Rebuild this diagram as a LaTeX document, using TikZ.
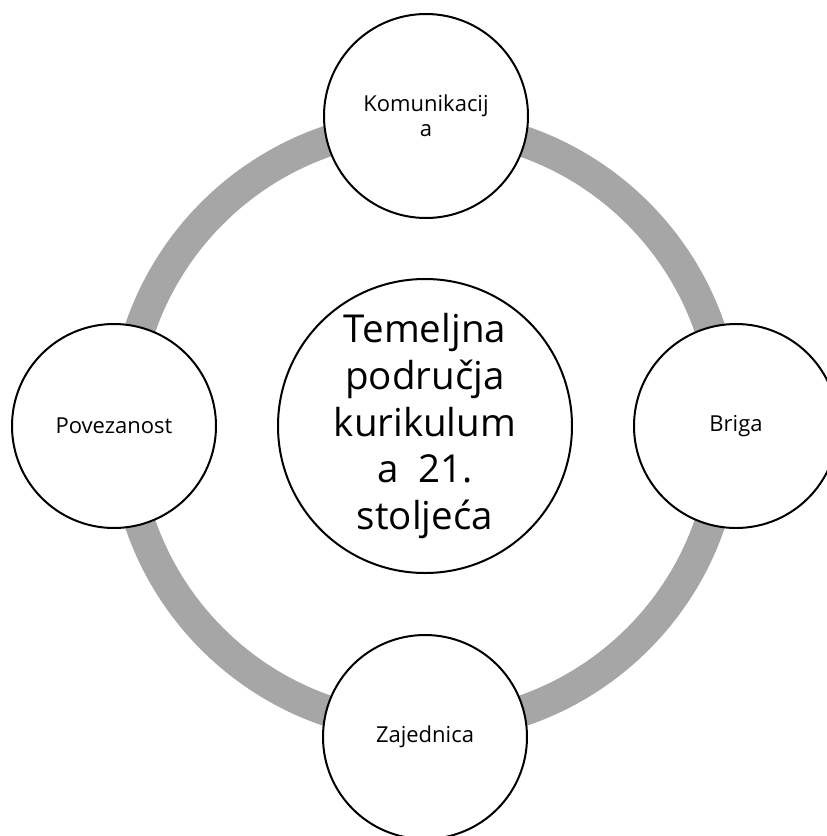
\documentclass[tikz,border=0pt]{standalone}
\usepackage{fontspec}
\setmainfont{Open Sans}
\definecolor{ringgray}{HTML}{A6A6A6}
\begin{document}
\begin{tikzpicture}[x=1pt,y=-1pt,
  small/.style={circle, draw=black, line width=2pt, fill=white, minimum size=204pt, inner sep=0pt, align=center,
     font=\fontsize{22}{25}\selectfont},
  big/.style={circle, draw=black, line width=2pt, fill=white, minimum size=294pt, inner sep=0pt, align=center,
     font=\fontsize{38.5}{46.7}\selectfont}]
\useasboundingbox (0,0) rectangle (827,836);
\coordinate (c) at (425,426);
\draw[ringgray, line width=31pt] (c) circle[radius=301pt];
\node[big] (center) at (425,426) {Temeljna\\područja\\kurikulum\\a\ \ 21.\\stoljeća};
\node[small] (top) at (426,116) {Komunikacij\\a};
\node[small] (right) at (736,426) {Briga};
\node[small] (bottom) at (425,737) {Zajednica};
\node[small] (left) at (114,426) {Povezanost};
\end{tikzpicture}
\end{document}
